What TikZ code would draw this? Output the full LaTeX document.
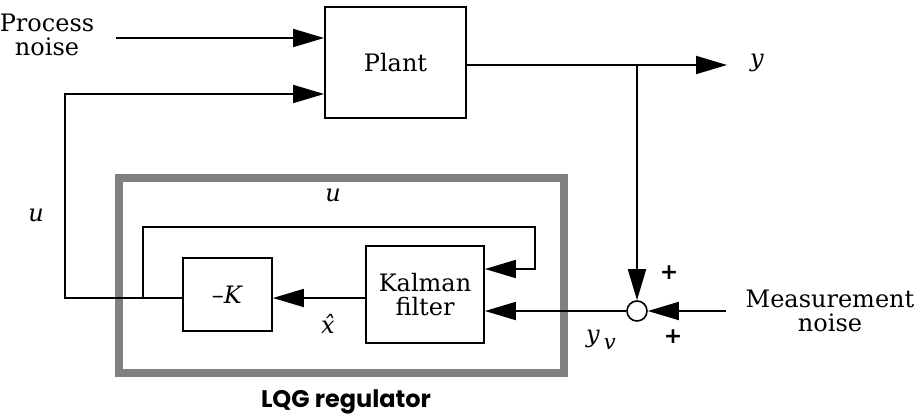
\documentclass[tikz,border=0pt]{standalone}
\usepackage{fontspec}
\setmainfont{DejaVu Serif}
\newfontfamily\lqgfont{Poppins}
\newfontfamily\plusfont{DejaVu Sans}
\usetikzlibrary{arrows.meta,calc}
\tikzset{
  blk/.style={draw, line width=1.8pt, rectangle, inner sep=0pt, align=center, font=\fontsize{24}{28}\selectfont},
  arr/.style={line width=1.8pt, -{Triangle[length=31pt,width=18pt]}},
  lbl/.style={inner sep=0pt, align=center, font=\fontsize{24}{28}\selectfont},
  pls/.style={inner sep=0pt, font=\plusfont\bfseries\fontsize{22}{24}\selectfont},
  sumc/.style={draw, circle, line width=1.6pt, minimum size=20pt, inner sep=0pt, fill=white},
  regbox/.style={color={rgb,255:red,128;green,128;blue,128}, line width=8pt}
}
\begin{document}
\begin{tikzpicture}[x=1pt,y=-1pt]
\useasboundingbox (0,0) rectangle (920,417);
% LQG frame
\draw[regbox] (118.5,178) rectangle (564,373);
\node[lbl, font=\lqgfont\bfseries\fontsize{24}{28}\selectfont] (lqg) at (346,402) {LQG regulator};
% blocks
\node[blk, minimum width=141pt, minimum height=111pt] (plant) at (395.5,62.5) {Plant};
\node[blk, minimum width=89pt, minimum height=73pt] (kb) at (227.5,294.5) {–\textit{K}};
\node[blk, minimum width=118pt, minimum height=97pt] (kal) at (425,294.5) {Kalman\\[-4pt]filter};
\node[sumc] (sum) at (637,311) {};
% coordinates
\coordinate (pn) at (116,38);
\coordinate (uT) at (65,94);
\coordinate (uL) at (65,298);
\coordinate (j) at (143,298);
\coordinate (jT) at (143,227);
\coordinate (rT) at (535,227);
\coordinate (rB) at (535,269);
\coordinate (yout) at (727,65);
\coordinate (br) at (637,65);
\coordinate (mn) at (726,311);
% connectors
\draw[arr] (pn) -- (pn -| plant.west);
\draw[arr] (kb.west |- uL) -- (uL) -- (uT) -- (uT -| plant.west);
\draw[arr] (plant.east |- yout) -- (yout);
\draw[arr] (br) -- (sum.north);
\draw[arr] (mn) -- (sum.east);
\draw[arr] (sum.west) -- (sum.west -| kal.east);
\draw[arr] (j) -- (jT) -- (rT) -- (rB) -- (rB -| kal.east);
\draw[arr] (kal.west |- uL) -- (kb.east |- uL);
% labels
\node[lbl] (pnl) at (47,35) {Process\\[-4pt]noise};
\node[lbl] (ylbl) at (757,63) {\textit{y}};
\node[lbl] (u1) at (36,215) {\textit{u}};
\node[lbl] (u2) at (333,195) {\textit{u}};
\node[lbl] (xh) at (328,324) {\textit{\^{x}}};
\node[lbl] (yv) at (601,340) {\textit{y}\,\raisebox{-7pt}{\fontsize{21}{23}\selectfont\textit{v}}};
\node[pls] (p1) at (669,273) {+};
\node[pls] (p2) at (673,337) {+};
\node[lbl] (mnl) at (830,311) {Measurement\\[-4pt]noise};
\end{tikzpicture}
\end{document}
